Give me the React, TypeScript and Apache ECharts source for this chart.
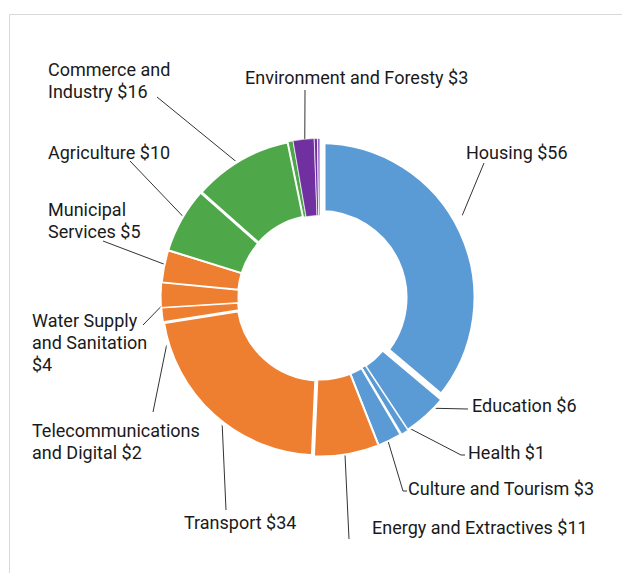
import React, { useEffect, useRef } from "react";
import * as echarts from "echarts";

// ---- data ----
const categories = [
  "Housing",
  "Education",
  "Health",
  "Health (other)",
  "Culture and Tourism",
  "Energy and Extractives",
  "Transport",
  "Telecommunications and Digital",
  "Water Supply and Sanitation",
  "Municipal Services",
  "Agriculture",
  "Commerce and Industry",
  "Commerce (other)",
  "Environment and Foresty",
  "Environment (other A)",
  "Environment (other B)",
];
const values = [56, 7.1, 1.1, 0.2, 3.8, 10.4, 33.8, 2.3, 3.9, 5.1, 10.4, 15.9, 0.8, 3.3, 0.5, 0.4];
const labelTexts = [
  "Housing $56",
  "Education $6",
  "Health $1",
  "",
  "Culture and Tourism $3",
  "Energy and Extractives $11",
  "Transport $34",
  "Telecommunications\nand Digital $2",
  "Water Supply\nand Sanitation\n$4",
  "Municipal\nServices $5",
  "Agriculture $10",
  "Commerce and\nIndustry $16",
  "",
  "Environment and Foresty $3",
  "",
  "",
];

// ---- styles / layout ----
const BLUE = "#5B9BD5";
const ORANGE = "#EE7F31";
const GREEN = "#4EA84A";
const PURPLE = "#7030A0";
const colors = [
  BLUE, BLUE, BLUE, "#A9CBEB", BLUE,
  ORANGE, ORANGE, ORANGE, ORANGE, ORANGE,
  GREEN, GREEN, GREEN,
  PURPLE, PURPLE, "#9466C4",
];
const borders = [11, 2.5, 0.7, 0.7, 2, 2, 4, 2, 1, 2, 2, 3, 1, 0.6, 0.7, 0.8];

const CX = 320;
const CY = 297.5;
const R_IN = 82;
const R_OUT = 159;
const LINE_START = 0.93;

// label block (left x, middle y) and the leader line points at the label end
const placements: ({ x: number; y: number; line: number[][] } | null)[] = [
  { x: 466, y: 152, line: [[484, 163]] },
  { x: 472, y: 405, line: [[468, 409]] },
  { x: 468, y: 452, line: [[461, 455], [465, 455]] },
  null,
  { x: 408, y: 488, line: [[403, 491], [407, 491]] },
  { x: 372, y: 527, line: [[349, 539]] },
  { x: 184, y: 522, line: [[226, 510]] },
  { x: 32, y: 441, line: [[153, 412]] },
  { x: 32, y: 342, line: [[143, 325]] },
  { x: 48, y: 220, line: [[103, 241]] },
  { x: 48, y: 152, line: [[130, 161]] },
  { x: 48, y: 80, line: [[157, 97]] },
  null,
  { x: 245, y: 77, line: [[305, 90]] },
  null,
  null,
];

function fallbackStart(i: number): number[] {
  const total = values.reduce((a, b) => a + b, 0);
  let acc = 0;
  for (let k = 0; k < i; k++) acc += values[k];
  const mid = ((acc + values[i] / 2) / total) * Math.PI * 2;
  const r = R_OUT * LINE_START;
  return [CX + Math.sin(mid) * r, CY - Math.cos(mid) * r];
}

export default function App() {
  const ref = useRef<HTMLDivElement>(null);
  useEffect(() => {
    if (!ref.current) return;
    const chart = echarts.init(ref.current, undefined, { renderer: "svg" });
    const data = categories.map((name, i) => ({
      name,
      value: values[i],
      itemStyle: { color: colors[i], borderColor: "#ffffff", borderWidth: borders[i] },
      label: { show: labelTexts[i] !== "" },
      labelLine: { show: labelTexts[i] !== "" },
    }));
    chart.setOption({
      animation: false,
      backgroundColor: "#ffffff",
      graphic: [
        {
          type: "rect",
          silent: true,
          z: -10,
          shape: { x: 9.5, y: 14.5, width: 700, height: 700 },
          style: { fill: "none", stroke: "#d9d9d9", lineWidth: 1 },
        },
      ],
      series: [
        {
          type: "pie",
          radius: [R_IN, R_OUT],
          center: [CX, CY],
          startAngle: 90,
          clockwise: true,
          avoidLabelOverlap: false,
          emphasis: { disabled: true },
          label: {
            show: true,
            position: "outside",
            formatter: (p: any) => labelTexts[p.dataIndex],
            color: "#1a1a1a",
            fontSize: 18,
            fontFamily: "Roboto",
            lineHeight: 22,
          },
          labelLine: {
            show: true,
            length: 10,
            length2: 10,
            lineStyle: { color: "#333333", width: 1 },
          },
          labelLayout: (params: any) => {
            const p = placements[params.dataIndex];
            if (!p) return {};
            const pts = params.labelLinePoints;
            let start: number[];
            if (pts && pts.length) {
              const [px, py] = pts[0];
              start = [CX + (px - CX) * LINE_START, CY + (py - CY) * LINE_START];
            } else {
              start = fallbackStart(params.dataIndex);
            }
            return {
              x: p.x,
              y: p.y,
              align: "left",
              verticalAlign: "middle",
              labelLinePoints: [start, ...p.line],
            };
          },
          data,
        },
      ],
    });
    return () => chart.dispose();
  }, []);
  return (
    <div
      ref={ref}
      style={{ position: "fixed", left: 0, top: 0, width: 622, height: 573, background: "#fff" }}
    />
  );
}
